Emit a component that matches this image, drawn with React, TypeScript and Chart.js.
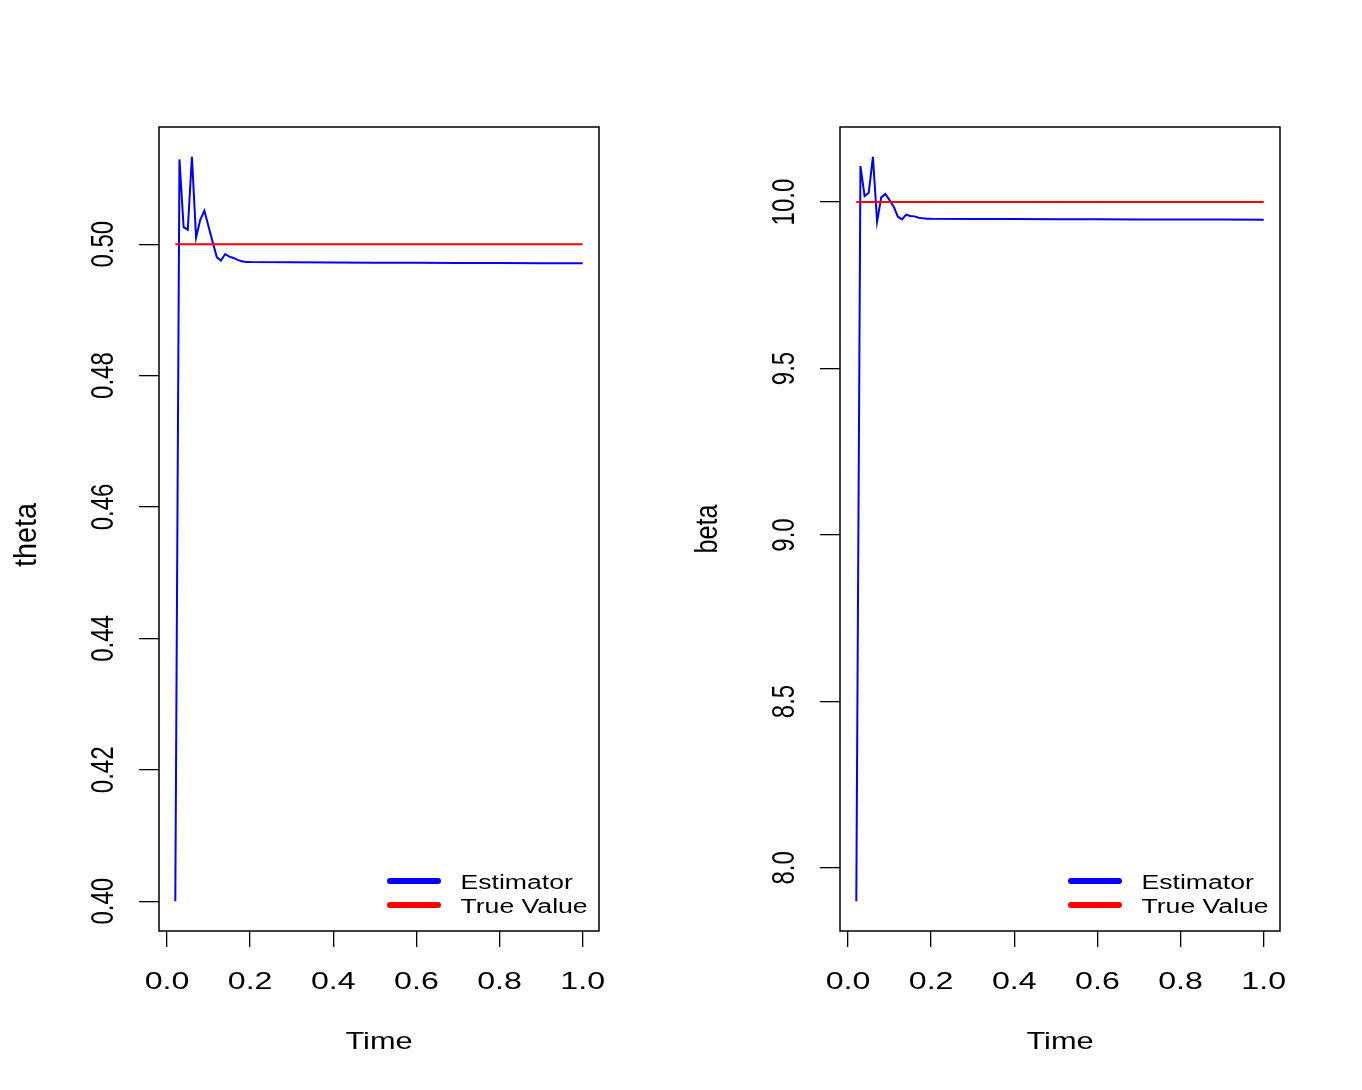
import React, { useEffect, useRef } from "react";
import { Chart, registerables } from "chart.js";

Chart.register(...registerables);

// ---- data ----
const time = [0.02, 0.03, 0.04, 0.05, 0.06, 0.07, 0.08, 0.09, 0.1, 0.11, 0.12, 0.13, 0.14, 0.15, 0.16, 0.17, 0.18, 0.19, 0.2, 0.3, 0.4, 0.5, 0.6, 0.7, 0.8, 0.9, 1.0];
const thetaEst = [0.4, 0.5129, 0.5026, 0.5022, 0.5133, 0.501, 0.5037, 0.5051, 0.5027, 0.5003, 0.498, 0.4975, 0.4985, 0.4981, 0.4979, 0.4976, 0.4974, 0.4973, 0.49728, 0.49724, 0.49721, 0.49718, 0.49716, 0.49714, 0.49712, 0.49711, 0.4971];
const betaEst = [7.9, 10.108, 10.018, 10.028, 10.136, 9.941, 10.014, 10.024, 10.006, 9.986, 9.956, 9.948, 9.962, 9.958, 9.957, 9.953, 9.951, 9.9502, 9.9498, 9.9493, 9.9489, 9.9485, 9.9482, 9.9479, 9.9476, 9.9474, 9.9472];
const thetaTrue = 0.5;
const betaTrue = 10.0;

const xTicks = [0, 0.2, 0.4, 0.6, 0.8, 1.0];
const xTickLabels = ["0.0", "0.2", "0.4", "0.6", "0.8", "1.0"];
const thetaTicks = [0.4, 0.42, 0.44, 0.46, 0.48, 0.5];
const thetaTickLabels = ["0.40", "0.42", "0.44", "0.46", "0.48", "0.50"];
const betaTicks = [8.0, 8.5, 9.0, 9.5, 10.0];
const betaTickLabels = ["8.0", "8.5", "9.0", "9.5", "10.0"];
const legendLabels = ["Estimator", "True Value"];
const xTitle = "Time";

// ---- style ----
const FONT = '"Liberation Sans", Arial, Helvetica, sans-serif';
const SX = 1.34;
const BLUE = "#0000FF";
const RED = "#FF0000";

function drawText(ctx: CanvasRenderingContext2D, text: string, cx: number, cy: number, size: number, sx: number, sy: number, rotated: boolean, align: CanvasTextAlign = "center") {
  ctx.save();
  ctx.translate(cx, cy);
  ctx.scale(sx, sy);
  if (rotated) ctx.rotate(-Math.PI / 2);
  ctx.font = `${size}px ${FONT}`;
  ctx.textAlign = align;
  ctx.textBaseline = "alphabetic";
  ctx.fillStyle = "#000";
  ctx.fillText(text, 0, size * 0.358);
  ctx.restore();
}

function rangeOf(vals: number[]) {
  const mn = Math.min(...vals);
  const mx = Math.max(...vals);
  const ext = (mx - mn) * 0.04;
  return [mn - ext, mx + ext];
}

type PanelProps = {
  est: number[];
  truth: number;
  yTicks: number[];
  yTickLabels: string[];
  yTitle: string;
  yTitleDy: number;
  yTitleSy: number;
};

function Panel({ est, truth, yTicks, yTickLabels, yTitle, yTitleDy, yTitleSy }: PanelProps) {
  const ref = useRef<HTMLCanvasElement | null>(null);
  useEffect(() => {
    const canvas = ref.current;
    if (!canvas) return;
    const [xmin, xmax] = rangeOf(time);
    const [ymin, ymax] = rangeOf(est);
    const plugin = {
      id: "rstyle",
      afterDraw(chart: any) {
        const { ctx, chartArea: a, scales } = chart;
        const xs = scales.x;
        const ys = scales.y;
        ctx.save();
        ctx.strokeStyle = "#000";
        ctx.lineWidth = 1.5;
        ctx.strokeRect(a.left, a.top, a.right - a.left, a.bottom - a.top);
        xTicks.forEach((v, i) => drawText(ctx, xTickLabels[i], xs.getPixelForValue(v), a.bottom + 49, 24, SX, 1, false));
        yTicks.forEach((v, i) => drawText(ctx, yTickLabels[i], a.left - 58, ys.getPixelForValue(v), 24, SX, 1, true));
        drawText(ctx, xTitle, (a.left + a.right) / 2, a.bottom + 109, 24, 1.28, 1, false);
        drawText(ctx, yTitle, a.left - 135, (a.top + a.bottom) / 2 + yTitleDy, 24, SX, yTitleSy, true);
        // legend
        const colors = [BLUE, RED];
        const ly = [a.bottom - 50, a.bottom - 26];
        colors.forEach((c, i) => {
          ctx.beginPath();
          ctx.strokeStyle = c;
          ctx.lineWidth = 6;
          ctx.lineCap = "round";
          ctx.moveTo(a.right - 209, ly[i]);
          ctx.lineTo(a.right - 161, ly[i]);
          ctx.stroke();
          drawText(ctx, legendLabels[i], a.right - 138.5, ly[i] + 0.5, 20, 1.33, 1, false, "left");
        });
        ctx.restore();
      },
    };
    const chart = new Chart(canvas, {
      type: "line",
      data: {
        datasets: [
          {
            label: legendLabels[1],
            data: [
              { x: time[0], y: truth },
              { x: time[time.length - 1], y: truth },
            ],
            borderColor: RED,
            borderWidth: 2,
            pointRadius: 0,
            tension: 0,
            order: 0,
          },
          {
            label: legendLabels[0],
            data: time.map((t, i) => ({ x: t, y: est[i] })),
            borderColor: BLUE,
            borderWidth: 2,
            pointRadius: 0,
            tension: 0,
            order: 1,
          },
        ],
      },
      options: {
        animation: false,
        responsive: false,
        devicePixelRatio: 1,
        layout: { padding: { left: 0, right: 82, top: 127, bottom: 0 } },
        plugins: { legend: { display: false }, tooltip: { enabled: false } },
        events: [],
        scales: {
          x: {
            type: "linear",
            min: xmin,
            max: xmax,
            afterBuildTicks: (s: any) => {
              s.ticks = xTicks.map((v) => ({ value: v }));
            },
            afterFit: (s: any) => {
              s.height = 159;
            },
            ticks: { display: false },
            border: { display: false },
            grid: { drawOnChartArea: false, drawTicks: true, tickLength: 16, color: "#000", lineWidth: 1.3 },
          },
          y: {
            type: "linear",
            min: ymin,
            max: ymax,
            afterBuildTicks: (s: any) => {
              s.ticks = yTicks.map((v) => ({ value: v }));
            },
            afterFit: (s: any) => {
              s.width = 159;
            },
            ticks: { display: false },
            border: { display: false },
            grid: { drawOnChartArea: false, drawTicks: true, tickLength: 20, color: "#000", lineWidth: 1.3 },
          },
        },
      },
      plugins: [plugin],
    } as any);
    return () => chart.destroy();
  }, []);
  return <canvas ref={ref} width={681} height={1090} style={{ display: "block", width: 681, height: 1090 }} />;
}

export default function App() {
  return (
    <div style={{ position: "absolute", left: 0, top: 0, width: 1362, height: 1090, background: "#fff", display: "flex" }}>
      <Panel est={thetaEst} truth={thetaTrue} yTicks={thetaTicks} yTickLabels={thetaTickLabels} yTitle="theta" yTitleDy={6} yTitleSy={1.2} />
      <Panel est={betaEst} truth={betaTrue} yTicks={betaTicks} yTickLabels={betaTickLabels} yTitle="beta" yTitleDy={0} yTitleSy={1.05} />
    </div>
  );
}
